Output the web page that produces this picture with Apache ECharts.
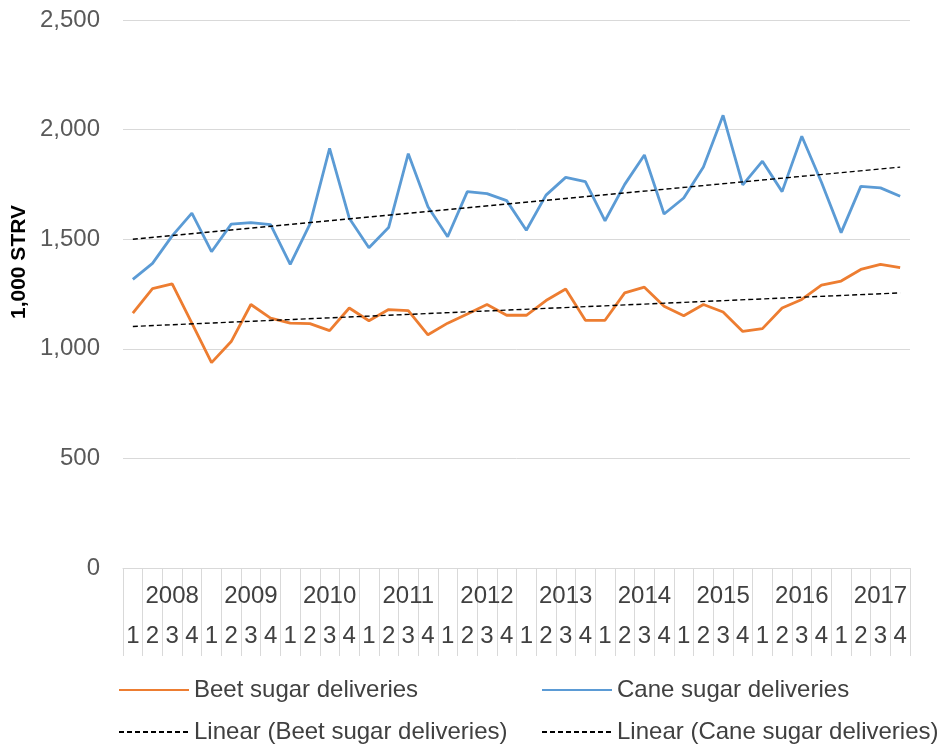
<!DOCTYPE html>
<html>
<head>
<meta charset="utf-8">
<script src="https://cdn.jsdelivr.net/npm/echarts@6/dist/echarts.min.js"></script>
<style>html,body{margin:0;padding:0;background:#fff}#c{width:940px;height:748px}</style>
</head>
<body>
<div id="c"></div>
<script>
var years = ['2008','2009','2010','2011','2012','2013','2014','2015','2016','2017'];
var quarters = ['1','2','3','4'];
var beet = [1163,1275,1296,1117,937,1033,1202,1140,1117,1115,1083,1186,1128,1179,1174,1064,1117,1159,1202,1153,1153,1220,1273,1130,1130,1255,1281,1194,1151,1202,1168,1079,1092,1186,1225,1290,1309,1362,1385,1370];
var cane = [1317,1390,1515,1619,1443,1569,1576,1566,1385,1569,1914,1596,1461,1553,1890,1648,1511,1717,1708,1676,1541,1701,1782,1763,1584,1750,1884,1615,1688,1829,2065,1748,1856,1717,1970,1760,1530,1741,1734,1696];
var beetTrendEnds = [1102,1255];
var caneTrendEnds = [1500,1829];
var yTicks = [0,500,1000,1500,2000,2500];

var cats = [], yearCats = [];
years.forEach(function(y){ quarters.forEach(function(q){ cats.push(y+'-'+q); yearCats.push(y+'|'+q); }); });
function trend(ends){ var a = cats.map(function(){return null;}); a[0]=ends[0]; a[a.length-1]=ends[1]; return a; }

var FONT = 'Liberation Sans, Arial, sans-serif';
var legendBase = {padding:0,itemWidth:70,itemHeight:14,itemStyle:{opacity:0},textStyle:{fontFamily:FONT,fontSize:24,color:'#404040'}};
function lg(name,left,top){ return Object.assign({data:[name],left:left,top:top}, legendBase); }

var chart = echarts.init(document.getElementById('c'));
chart.setOption({
  animation:false,
  backgroundColor:'#fff',
  grid:{left:123,right:30,top:20,bottom:180},
  xAxis:[{
    type:'category', data:cats, boundaryGap:true, position:'bottom',
    axisLine:{lineStyle:{color:'#d9d9d9',width:1}},
    axisTick:{show:true,length:88,interval:0,alignWithLabel:false,lineStyle:{color:'#d9d9d9'}},
    axisLabel:{interval:0,margin:56,fontFamily:FONT,fontSize:24,color:'#404040',formatter:function(v){return v.split('-')[1];}}
  },{
    type:'category', data:yearCats, boundaryGap:true, position:'bottom', offset:0,
    axisLine:{show:false}, axisTick:{show:false},
    axisLabel:{interval:0,margin:16,fontFamily:FONT,fontSize:24,color:'#404040',
      formatter:function(v){var p=v.split('|'); return p[1]==='3'?p[0]:'';}}
  }],
  yAxis:{
    type:'value', min:0, max:2500, interval:500,
    axisLine:{show:false}, axisTick:{show:false},
    splitLine:{lineStyle:{color:'#d9d9d9',width:1}},
    axisLabel:{margin:23,fontFamily:FONT,fontSize:24,color:'#595959',
      formatter:function(v){return v.toLocaleString('en-US');}}
  },
  graphic:[{
    type:'text', left:9, top:205, rotation:Math.PI/2,
    style:{text:'1,000 STRV',font:'bold 21px '+FONT,fill:'#000'}
  }],
  legend:[
    lg('Beet sugar deliveries',118,678),
    lg('Cane sugar deliveries',541,678),
    lg('Linear (Beet sugar deliveries)',118,720),
    lg('Linear (Cane sugar deliveries)',541,720)
  ],
  series:[
    {name:'Beet sugar deliveries',type:'line',data:beet,symbol:'none',lineStyle:{color:'#ED7D31',width:2.8},itemStyle:{color:'#ED7D31'}},
    {name:'Cane sugar deliveries',type:'line',data:cane,symbol:'none',lineStyle:{color:'#5B9BD5',width:2.8},itemStyle:{color:'#5B9BD5'}},
    {name:'Linear (Beet sugar deliveries)',type:'line',data:trend(beetTrendEnds),connectNulls:true,symbol:'none',lineStyle:{color:'#000',width:1.4,type:[5,3]},itemStyle:{color:'#000'},z:5},
    {name:'Linear (Cane sugar deliveries)',type:'line',data:trend(caneTrendEnds),connectNulls:true,symbol:'none',lineStyle:{color:'#000',width:1.4,type:[5,3]},itemStyle:{color:'#000'},z:5}
  ]
});
</script>
</body>
</html>
